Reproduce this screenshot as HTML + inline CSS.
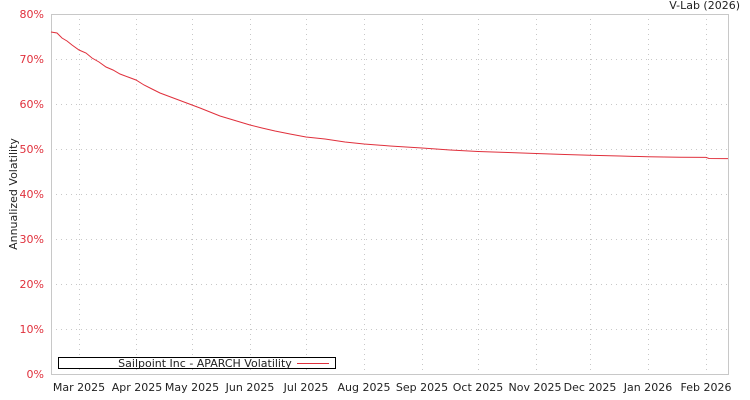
<!DOCTYPE html>
<html><head><style>
body{margin:0;background:#fff;}
svg{display:block;font-family:"DejaVu Sans","Liberation Sans",sans-serif;}
</style></head><body>
<svg width="750" height="400" xmlns="http://www.w3.org/2000/svg">
<rect width="750" height="400" fill="#fff"/>
<g stroke="#c8c8c8" stroke-dasharray="1,4" stroke-width="1">
<line x1="51" x2="728" y1="59.5" y2="59.5"/><line x1="51" x2="728" y1="104.5" y2="104.5"/>
<line x1="51" x2="728" y1="149.5" y2="149.5"/><line x1="51" x2="728" y1="194.5" y2="194.5"/>
<line x1="51" x2="728" y1="239.5" y2="239.5"/><line x1="51" x2="728" y1="284.5" y2="284.5"/>
<line x1="51" x2="728" y1="329.5" y2="329.5"/>
<line x1="79.5" x2="79.5" y1="14" y2="374"/><line x1="136.5" x2="136.5" y1="14" y2="374"/>
<line x1="192.5" x2="192.5" y1="14" y2="374"/><line x1="250.5" x2="250.5" y1="14" y2="374"/>
<line x1="306.5" x2="306.5" y1="14" y2="374"/><line x1="364.5" x2="364.5" y1="14" y2="374"/>
<line x1="422.5" x2="422.5" y1="14" y2="374"/><line x1="478.5" x2="478.5" y1="14" y2="374"/>
<line x1="536.5" x2="536.5" y1="14" y2="374"/><line x1="590.5" x2="590.5" y1="14" y2="374"/>
<line x1="648.5" x2="648.5" y1="14" y2="374"/><line x1="706.5" x2="706.5" y1="14" y2="374"/>
</g>
<rect x="51.5" y="14.5" width="677" height="360" fill="none" stroke="#c8c8c8"/>
<g fill="#e0303c" font-size="11" text-anchor="end">
<text x="44" y="18">80%</text><text x="44" y="63">70%</text><text x="44" y="108">60%</text>
<text x="44" y="153">50%</text><text x="44" y="198">40%</text><text x="44" y="243">30%</text>
<text x="44" y="288">20%</text><text x="44" y="333">10%</text><text x="44" y="378">0%</text>
</g>
<g fill="#222" font-size="11" text-anchor="middle">
<text x="79" y="391">Mar 2025</text><text x="137" y="391">Apr 2025</text><text x="192" y="391">May 2025</text>
<text x="250" y="391">Jun 2025</text><text x="306" y="391">Jul 2025</text><text x="364" y="391">Aug 2025</text>
<text x="422" y="391">Sep 2025</text><text x="478" y="391">Oct 2025</text><text x="535" y="391">Nov 2025</text>
<text x="590" y="391">Dec 2025</text><text x="648" y="391">Jan 2026</text><text x="706" y="391">Feb 2026</text>
</g>
<text x="740" y="9" font-size="11" fill="#222" text-anchor="end">V-Lab (2026)</text>
<text transform="translate(17,194) rotate(-90)" font-size="11" fill="#222" text-anchor="middle">Annualized Volatility</text>
<polyline fill="none" stroke="#e0303c" stroke-width="1" points="51,32 57,33 62,38 67,41 72,45 79,50 86,53 92,58 99,62 106,67 113,70 120,74 128,77 136,80 144,85 152,89 160,93 168,96 176,99 184,102 192,105 200,108 210,112 220,116 230,119 240,122 250,125 262,128 275,131 290,134 306,137 325,139 345,142 364,144 390,146 422,148 450,150 478,151.5 508,152.5 536,153.5 565,154.5 590,155.2 620,156 648,156.8 680,157.2 706,157.4 709,158.5 728,158.6"/>
<rect x="58.5" y="357.5" width="277" height="11" fill="#fff" stroke="#000"/>
<text x="205" y="367" font-size="11" fill="#222" text-anchor="middle">Sailpoint Inc - APARCH Volatility</text>
<line x1="297" x2="329" y1="363.5" y2="363.5" stroke="#e0303c"/>
</svg>
</body></html>
